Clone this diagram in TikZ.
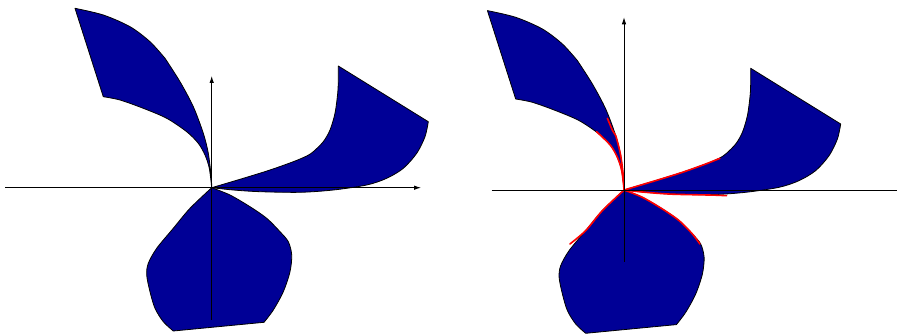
\documentclass[tikz,border=0pt]{standalone}
\usetikzlibrary{arrows.meta}
\definecolor{petal}{RGB}{0,0,150}
\tikzset{
  petalfill/.style={fill=petal, draw=black, line width=0.8pt, line join=round},
  axisline/.style={draw=black, line width=0.8pt},
  axisarrow/.style={axisline, -{Latex[length=7pt,width=4.5pt]}},
  redcurve/.style={draw=red, line width=1.6pt, line cap=round},
  every plot/.style={smooth, tension=0.5}
}
\newcommand\drawpetals{%
  % upper-left petal
  \path[petalfill] (75,8.3) -- (103.3,96.7)
    -- plot coordinates {(103.3,96.7) (120,100) (143.3,108.3) (166.7,118.3) (186.7,131.7) (198.3,143.3) (205,155) (209.3,168.3) (211.7,187.7)}
    -- plot coordinates {(211.7,187.7) (211.2,176.7) (208.3,153.3) (203.3,133.3) (193.3,106.7) (180,81.7) (165,58.3)}
    -- plot coordinates {(165,58.3) (150,41.7) (130,26.7) (103.3,15) (75,8.3)}
    -- cycle;
  % right petal
  \path[petalfill] (338.3,66) -- (428.3,121.7)
    -- plot coordinates {(428.3,121.7) (425,136.7) (416.7,153.3) (403.3,168.3) (386.7,178.3) (366.7,185) (333.3,190) (300,192.3) (260,191.7) (233.3,190) (211.7,187.7)}
    -- plot coordinates {(211.7,187.7) (243.3,178.3) (270,170) (293.3,161.7) (306.7,156) (313.3,151.7) (323.3,141.7) (330,130) (335,113.3) (337.7,93.3) (338.3,80) (338.3,66)}
    -- cycle;
  % bottom petal
  \path[petalfill] (211.7,187.7)
    -- plot coordinates {(211.7,187.7) (190,208.3) (173.3,228.3) (156.7,248.3) (148.3,263.3) (146.7,275) (150,291.7) (155,308.3) (163.3,321.7) (173.3,331)}
    -- (264,322.3)
    -- plot coordinates {(264,322.3) (273.3,310) (283.3,291.7) (290,271.7) (291.7,255) (288.3,241.7) (280,231.7) (266.7,218.3) (250,206.7) (230,195) (211.7,187.7)}
    -- cycle;
}
\begin{document}
\begin{tikzpicture}[x=1pt,y=-1pt]
\useasboundingbox (0,0) rectangle (897,334);
% left panel
\drawpetals
\coordinate (hLs) at (5,187.7);
\coordinate (hLe) at (421,187.7);
\coordinate (vLs) at (211.7,320);
\coordinate (vLe) at (211.7,76);
\draw[axisarrow] (hLs) -- (hLe);
\draw[axisarrow] (vLs) -- (vLe);
% right panel
\begin{scope}[shift={(412.4,2.3)}]
\drawpetals
\draw[redcurve] plot coordinates {(195,116) (200,128) (203.3,133.3) (208.3,153.3) (211.2,176.7) (211.7,187.7)};
\draw[redcurve] plot coordinates {(184,129.4) (186.7,131.7) (198.3,143.3) (205,155) (209.3,168.3) (211.7,187.7)};
\draw[redcurve] plot coordinates {(307.5,156) (293.3,161.7) (270,170) (243.3,178.3) (211.7,187.7)};
\draw[redcurve] plot coordinates {(314.2,193.4) (300,192.8) (260,191.9) (233.3,190) (211.7,187.7)};
\draw[redcurve] plot coordinates {(157.5,241.7) (173.3,228.3) (190,208.3) (211.7,187.7)};
\draw[redcurve] plot coordinates {(287.5,241.7) (280,231.7) (266.7,218.3) (250,206.7) (230,195) (211.7,187.7)};
\end{scope}
\coordinate (hRs) at (491.7,190);
\coordinate (hRe) at (897,190);
\coordinate (vRs) at (624,261.7);
\coordinate (vRe) at (624,17.3);
\draw[axisline] (hRs) -- (hRe);
\draw[axisarrow] (vRs) -- (vRe);
\end{tikzpicture}
\end{document}
